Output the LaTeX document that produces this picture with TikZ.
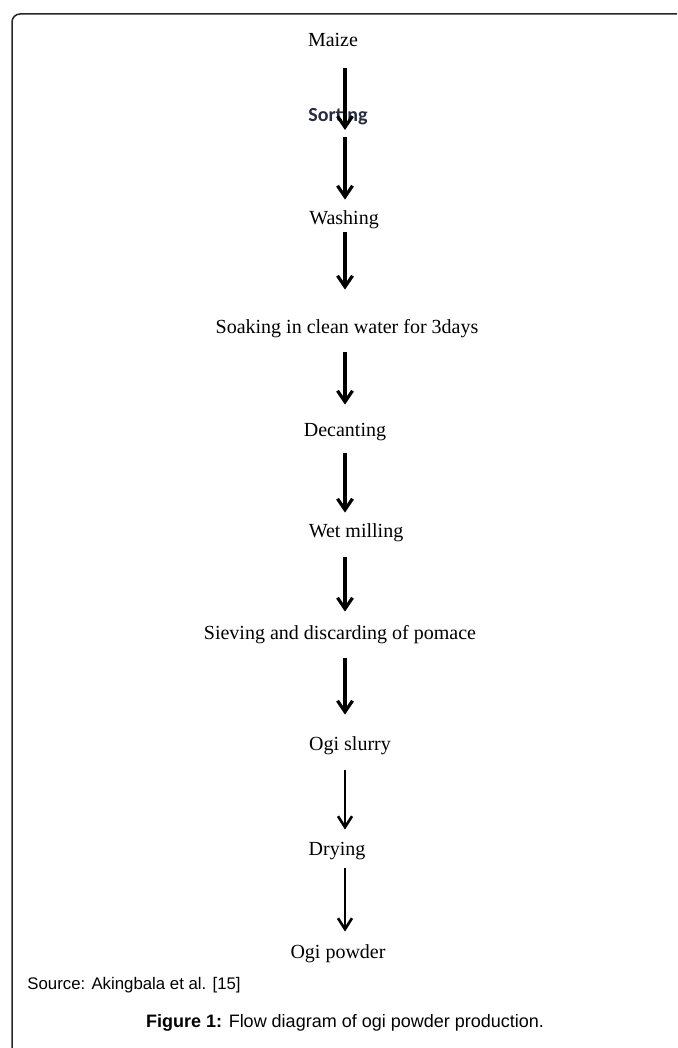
\documentclass[tikz,border=0pt]{standalone}
\usepackage{fontspec}
\setmainfont{Liberation Serif}
\newfontfamily\capfont{Liberation Sans}
\newfontfamily\sortfont{Carlito}
\usetikzlibrary{arrows.meta}
\definecolor{sortblue}{RGB}{38,44,66}
\newcommand\colorFrame{black!85}
\newcommand\colorFlow{black}
\newcommand\colorSorting{sortblue}
\newcommand\flowX{345}
\newcommand\thickWidth{1.6pt}
\newcommand\thinWidth{0.65pt}
\tikzset{
	stepnode/.style={inner sep=0pt, text height=7pt, text depth=2pt, text=\colorFlow,
		font=\fontsize{10pt}{12pt}\selectfont},
	sortnode/.style={stepnode, text=\colorSorting, font=\sortfont\bfseries\fontsize{10pt}{12pt}\selectfont},
	srcnode/.style={inner sep=0pt, font=\capfont\fontsize{8.4pt}{10pt}\selectfont},
	capnode/.style={inner sep=0pt, font=\capfont\fontsize{9pt}{11pt}\selectfont},
	flowthick/.style={draw=\colorFlow, line width=\thickWidth, -{Straight Barb[length=5.5pt, width=7.5pt]}},
	flowthin/.style={draw=\colorFlow, line width=\thinWidth, -{Straight Barb[length=5.5pt, width=7pt, line width=1.3pt]}},
	framestyle/.style={draw=\colorFrame, line width=0.75pt, rounded corners=4pt}
}

\begin{document}
\begin{tikzpicture}[x=0.5pt, y=-0.5pt]
	\useasboundingbox (0,0) rectangle (677,1048);
	\draw[framestyle] (12,1048) |- (677,14);
	
	\coordinate (axis) at (\flowX,0);
	\coordinate (sortend) at (\flowX,130);
	
	\node[stepnode] (maize) at (333,42) {Maize};
	\node[sortnode] (sorting) at (338,117) {Sorting};
	\node[stepnode] (washing) at (344,220) {Washing};
	\node[stepnode] (soaking) at (347,328) {Soaking in clean water for 3days};
	\node[stepnode] (decanting) at (345,431) {Decanting};
	\node[stepnode] (milling) at (356,532) {Wet milling};
	\node[stepnode] (sieving) at (340,634) {Sieving and discarding of pomace};
	\node[stepnode] (slurry) at (350,745) {Ogi slurry};
	\node[stepnode] (drying) at (337,850) {Drying};
	\node[stepnode] (powder) at (338,953) {Ogi powder};
	
	\draw[flowthick, shorten <=8.5pt] (maize.south -| axis) -- (sortend);
	\foreach \from/\to/\s/\e in {sorting/washing/5.5/5.5, washing/soaking/1.5/14.5,
		soaking/decanting/7.5/8.5, decanting/milling/6.5/5, milling/sieving/8/6.5,
		sieving/slurry/7.5/10.5}{
		\draw[flowthick, shorten <=\s pt, shorten >=\e pt] (\from.south -| axis) -- (\to.north -| axis);
	}
	\foreach \from/\to/\s/\e in {slurry/drying/8/5.5, drying/powder/4.5/6}{
		\draw[flowthin, shorten <=\s pt, shorten >=\e pt] (\from.south -| axis) -- (\to.north -| axis);
	}
	
	\node[srcnode, anchor=west] (source) at (27,985) {Source: Akingbala et al. [15]};
	\node[capnode] (caption) at (345,1023) {\textbf{Figure 1:} Flow diagram of ogi powder production.};
\end{tikzpicture}
\end{document}
